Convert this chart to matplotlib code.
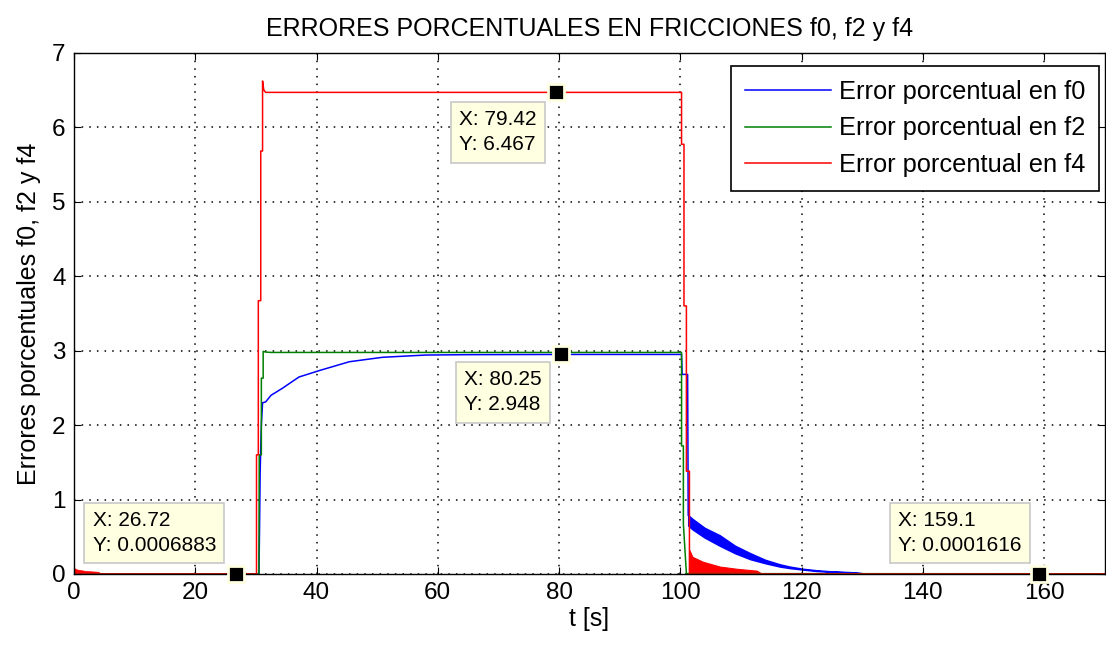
import numpy as np
import matplotlib
matplotlib.use('Agg')
import matplotlib.pyplot as plt

plt.rcParams['font.family'] = ['Liberation Sans', 'DejaVu Sans']

#error en f0 (azul)
t_f0 = [0, 30.5, 30.6, 30.7, 30.8, 30.9, 31.0, 31.1, 31.6, 32.5, 34.3, 37.1, 40.4, 45.4, 50.9, 58, 65, 80.25, 100.2, 100.3, 101.2, 101.3]
e_f0 = [0, 0, 0.6, 1.35, 1.7, 2.0, 2.15, 2.3, 2.31, 2.4, 2.49, 2.645, 2.73, 2.85, 2.91, 2.94, 2.945, 2.948, 2.948, 2.68, 2.68, 0.79]
#banda de rizado del f0 despues de t=101
t_f0_rip = [101.3, 102, 104, 106.5, 109, 111.5, 114, 116.4, 118, 120.2, 122.5, 125, 128, 130, 135, 170]
f0_sup = [0.79, 0.74, 0.62, 0.52, 0.38, 0.28, 0.19, 0.13, 0.10, 0.07, 0.05, 0.035, 0.025, 0.01, 0.005, 0.0]
f0_inf = [0.65, 0.60, 0.49, 0.38, 0.28, 0.20, 0.145, 0.10, 0.08, 0.06, 0.04, 0.03, 0.02, 0.01, 0.005, 0.0]

#error en f2 (verde)
t_f2 = [0, 30.5, 30.55, 30.9, 30.9, 31.2, 31.2, 31.6, 32.5, 100.2, 100.2, 100.5, 100.5, 101.0, 170]
e_f2 = [0, 0, 1.6, 1.6, 2.63, 2.63, 2.99, 2.98, 2.975, 2.975, 1.72, 1.72, 0.67, 0.005, 0.003]

#error en f4 (rojo)
t_f4 = [0, 30.1, 30.1, 30.4, 30.4, 30.8, 30.8, 31.1, 31.1, 31.3, 31.6, 100.2, 100.2, 100.6, 100.6, 101.0, 101.0, 101.5, 101.5, 170]
e_f4 = [0, 0, 1.6, 1.6, 3.67, 3.67, 5.68, 5.68, 6.62, 6.5, 6.467, 6.467, 5.77, 5.77, 3.6, 3.6, 1.38, 1.38, 0, 0]
t_f4_rip = [101.5, 102, 103.7, 106.5, 109.3, 112.6, 113.5]
f4_sup = [0.32, 0.23, 0.165, 0.1, 0.07, 0.045, 0.0]
t_f4_ini = [0, 0.5, 2, 4, 4.5]
f4_ini = [0.08, 0.06, 0.04, 0.03, 0.0]

#data tips
tip_x = [26.72, 79.42, 80.25, 159.1]
tip_y = [0.0006883, 6.467, 2.948, 0.0001616]
tip_txt = ['26.72', '79.42', '80.25', '159.1']
tip_ytxt = ['0.0006883', '6.467', '2.948', '0.0001616']
tip_off = [(-20, 19, 'bottom'), (-19, -18, 'top'), (-19, -16, 'top'), (-17, 19, 'bottom')]

fig = plt.figure(figsize=(11.06, 6.48), dpi=100)
ax = fig.add_axes([0.0669, 0.1142, 0.932, 0.8045])

azul = (0, 0, 1)
verde = (0, 0.5, 0)
rojo = (1, 0, 0)

ax.plot(t_f0, e_f0, color=azul, lw=1.1, label='Error porcentual en f0')
ax.fill_between(t_f0_rip, f0_inf, f0_sup, color=azul, lw=1.1)
ax.plot(t_f2, e_f2, color=verde, lw=1.1, label='Error porcentual en f2')
ax.plot(t_f4, e_f4, color=rojo, lw=1.1, label='Error porcentual en f4')
ax.fill_between(t_f4_rip, 0, f4_sup, color=rojo, lw=0.8)
ax.fill_between(t_f4_ini, 0, f4_ini, color=rojo, lw=0.5)

ax.set_xlim(0, 170)
ax.set_ylim(0, 7)
ax.set_xticks(np.arange(0, 161, 20))
ax.set_yticks(np.arange(0, 8, 1))
ax.tick_params(direction='in', top=True, right=True, length=5, labelsize=17.5, pad=6)
for s in ax.spines.values():
    s.set_linewidth(1.0)
ax.grid(True, color='k', linestyle=(0, (1, 4)), linewidth=1.1)

ax.set_title('ERRORES PORCENTUALES EN FRICCIONES f0, f2 y f4', fontsize=18, pad=12)
ax.set_xlabel('t [s]', fontsize=18, labelpad=2)
ax.set_ylabel('Errores porcentuales f0, f2 y f4', fontsize=18, labelpad=8)

leg = ax.legend(loc='upper right', bbox_to_anchor=(0.9945, 0.975), fontsize=18.3, fancybox=False,
                edgecolor='k', framealpha=1, borderaxespad=0, handlelength=3.4,
                labelspacing=0.5, borderpad=0.55, handletextpad=0.3)
leg.get_frame().set_linewidth(1.2)

for i in range(len(tip_x)):
    ax.plot(tip_x[i], tip_y[i], 's', color='k', markersize=11, markeredgecolor='#FFFFE1',
            markeredgewidth=2, clip_on=False, zorder=10)
    dx, dy, va = tip_off[i]
    ax.annotate('X: ' + tip_txt[i] + '\nY: ' + tip_ytxt[i], xy=(tip_x[i], tip_y[i]),
                xytext=(dx, dy), textcoords='offset pixels', ha='right', va=va,
                multialignment='left', fontsize=15, linespacing=1.4, zorder=11,
                bbox=dict(boxstyle='square,pad=0.4', fc='#FFFFE1', ec='#C8C8C8', lw=1.2))

fig.savefig('out.png', dpi=100)
